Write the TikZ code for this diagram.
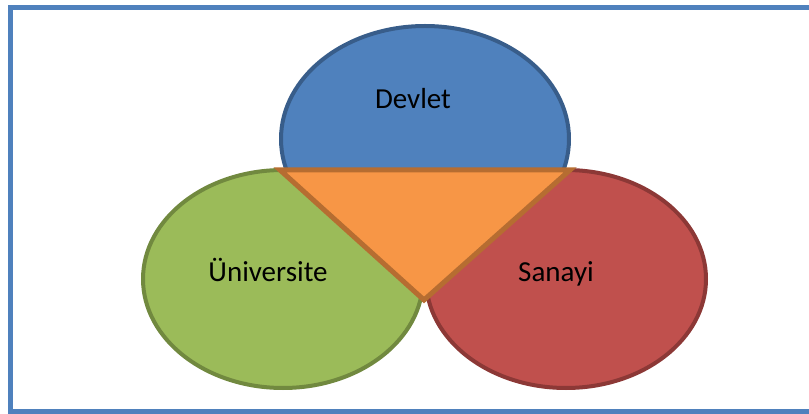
\documentclass[tikz,border=0pt]{standalone}
\usepackage{fontspec}
\setmainfont{Carlito}
\usetikzlibrary{shapes.geometric, positioning}
\definecolor{blueF}{HTML}{4F81BD}
\definecolor{blueD}{HTML}{385D8A}
\definecolor{greenF}{HTML}{9BBB59}
\definecolor{greenD}{HTML}{71893F}
\definecolor{redF}{HTML}{C0504D}
\definecolor{redD}{HTML}{8C3836}
\definecolor{orangeF}{HTML}{F79646}
\definecolor{orangeD}{HTML}{B66D31}

\begin{document}
\begin{tikzpicture}[x=1pt,y=-1pt,
  oval/.style={ellipse,line width=4pt,inner sep=0pt,minimum width=280pt,minimum height=218pt},
  lbl/.style={font=\fontsize{29}{33}\selectfont,text=black,anchor=base,inner sep=0pt}]
  \useasboundingbox (0,0) rectangle (809,414);
  \draw[blueF,line width=5pt] (830,7.5) -- (10.5,7.5) -- (10.5,411.5) -- (830,411.5);

  \node[oval,draw=blueD,fill=blueF,minimum width=288pt,minimum height=226pt] (devlet) at (425,139) {};
  \node[oval,draw=greenD,fill=greenF] (univ) at (283,279) {};
  \node[oval,draw=redD,fill=redF] (sanayi) at (566,279) {};

  \coordinate (tl) at (280,170);
  \coordinate (tr) at (570,170);
  \coordinate (bt) at (424,300);
  \draw[orangeD,fill=orangeF,line width=5pt,line join=miter] (tl) -- (tr) -- (bt) -- cycle;

  \node[lbl] (devletT) at ([xshift=-12pt,yshift=30pt]devlet.center) {Devlet};
  \node[lbl] (univT) at ([xshift=-15pt,yshift=-3pt]univ.center) {Üniversite};
  \node[lbl] (sanayiT) at ([xshift=-10pt,yshift=-3pt]sanayi.center) {Sanayi};
\end{tikzpicture}
\end{document}
